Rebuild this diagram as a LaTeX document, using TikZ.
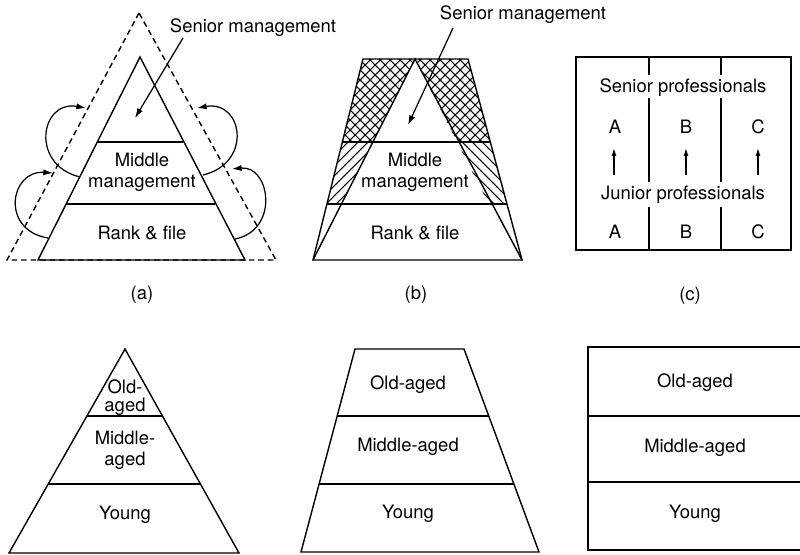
\documentclass[tikz,border=0pt]{standalone}
\usepackage{fontspec}
\setmainfont{TeX Gyre Heros}
\usetikzlibrary{arrows.meta}
\begin{document}
\begin{tikzpicture}[x=0.02cm,y=-0.02cm,
  every node/.style={font=\fontsize{10.5}{12}\selectfont, inner sep=0pt, align=center},
  outline/.style={line width=0.8pt, line join=miter},
  dashtri/.style={line width=0.8pt, dash pattern=on 3.2pt off 2.2pt},
  hatchln/.style={line width=0.6pt},
  arr/.style={line width=0.7pt, -{Latex[length=5.5pt,width=3.5pt]}},
  smallarr/.style={line width=0.7pt, -{Latex[length=4.5pt,width=2.8pt]}}]
\useasboundingbox (0,0) rectangle (800,554);

% ---------------- (a)
\draw[dashtri] (139,13) -- (7,260) -- (276,260) -- cycle;
\draw[outline] (140,57) -- (38,260) -- (245,260) -- cycle;
\draw[outline] (97.3,142) -- (183.3,142);
\draw[outline] (66.1,204) -- (215,204);
\node (amid) at (142,172) {Middle\\management};
\node (arank) at (142,233) {Rank \& file};
\node (asen) at (253,28) {Senior management};
\coordinate (asenA) at (183,38);
\coordinate (asenB) at (135,118);
\draw[arr] (asenA) -- (asenB);
\coordinate (al1s) at (80,177); \coordinate (al1e) at (86,108);
\coordinate (al2s) at (48,238); \coordinate (al2e) at (53,173);
\coordinate (ar1s) at (203,175); \coordinate (ar1e) at (197,108);
\coordinate (ar2s) at (235,239); \coordinate (ar2e) at (232,169);
\draw[arr] (al1s) .. controls (30,165) and (40,100) .. (al1e);
\draw[arr] (al2s) .. controls (0,230) and (10,170) .. (al2e);
\draw[arr] (ar1s) .. controls (253,163) and (243,100) .. (ar1e);
\draw[arr] (ar2s) .. controls (280,230) and (270,165) .. (ar2e);
\node (alab) at (142,295) {(a)};

% ---------------- (b)
\begin{scope}
  \clip (363,59) -- (415,59) -- (372.9,142) -- (342.4,142) -- cycle;
  \foreach \c in {300,310,...,800} {\draw[hatchln] (\c-20,20) -- (\c-300,300);}
  \foreach \c in {0,10,...,500} {\draw[hatchln] (\c+20,20) -- (\c+300,300);}
\end{scope}
\begin{scope}
  \clip (468,59) -- (415,59) -- (457.1,142) -- (490.3,142) -- cycle;
  \foreach \c in {300,310,...,900} {\draw[hatchln] (\c-20,20) -- (\c-300,300);}
  \foreach \c in {0,10,...,600} {\draw[hatchln] (\c+20,20) -- (\c+300,300);}
\end{scope}
\begin{scope}
  \clip (342.4,142) -- (372.9,142) -- (341.4,204) -- (326.9,204) -- cycle;
  \foreach \c in {300,310,...,800} {\draw[hatchln] (\c-20,20) -- (\c-300,300);}
\end{scope}
\begin{scope}
  \clip (490.3,142) -- (457.1,142) -- (488.6,204) -- (507,204) -- cycle;
  \foreach \c in {0,10,...,600} {\draw[hatchln] (\c+20,20) -- (\c+300,300);}
\end{scope}
\draw[outline] (363,59) -- (468,59) -- (522,260) -- (313,260) -- cycle;
\draw[outline] (313,260) -- (415,59) -- (522,260);
\draw[outline] (342.4,142) -- (490.3,142);
\draw[outline] (326.9,204) -- (507,204);
\node (bmid) at (415,172) {Middle\\management};
\node (brank) at (415,233) {Rank \& file};
\node (bsen) at (523,15) {Senior management};
\coordinate (bsenA) at (453,28);
\coordinate (bsenB) at (408,125);
\draw[arr] (bsenA) -- (bsenB);
\node (blab) at (416,295) {(b)};

% ---------------- (c)
\draw[outline] (576,57) rectangle (791,250);
\foreach \x in {649,721} {
  \draw[outline] (\x,57) -- (\x,75);
  \draw[outline] (\x,98) -- (\x,182);
  \draw[outline] (\x,207) -- (\x,250);
}
\node (csen) at (683,88) {Senior professionals};
\node (csA) at (615,127) {A};
\node (csB) at (686,127) {B};
\node (csC) at (758,127) {C};
\node (cjun) at (683,195) {Junior professionals};
\node (cjA) at (615,232) {A};
\node (cjB) at (686,232) {B};
\node (cjC) at (758,232) {C};
\foreach \x/\n in {614/a,686/b,758/c} {
  \coordinate (cl\n) at (\x,175);
  \coordinate (ch\n) at (\x,148);
  \draw[smallarr] (cl\n) -- (ch\n);
}
\node (clab) at (690,296) {(c)};

% ---------------- bottom row
\draw[outline] (125,349) -- (9,553) -- (239,553) -- cycle;
\draw[outline] (87,416) -- (162.5,416);
\draw[outline] (48.2,484) -- (200.5,484);
\node[font=\fontsize{10.5}{10.2}\selectfont] (dold) at (125,398) {Old-\\aged};
\node (dmid) at (125,450) {Middle-\\aged};
\node (dyoung) at (125,515) {Young};

\draw[outline] (355,349) -- (464,349) -- (539,552) -- (301,552) -- cycle;
\draw[outline] (337.2,416) -- (488.8,416);
\draw[outline] (319.1,484) -- (513.9,484);
\node (eold) at (408,385) {Old-aged};
\node (emid) at (408,447) {Middle-aged};
\node (eyoung) at (408,514) {Young};

\draw[outline] (800,347) -- (588,347) -- (588,550) -- (800,550);
\draw[outline] (588,416) -- (800,416);
\draw[outline] (588,482) -- (800,482);
\node (fold) at (695,383) {Old-aged};
\node (fmid) at (695,448) {Middle-aged};
\node (fyoung) at (695,514) {Young};
\end{tikzpicture}
\end{document}
